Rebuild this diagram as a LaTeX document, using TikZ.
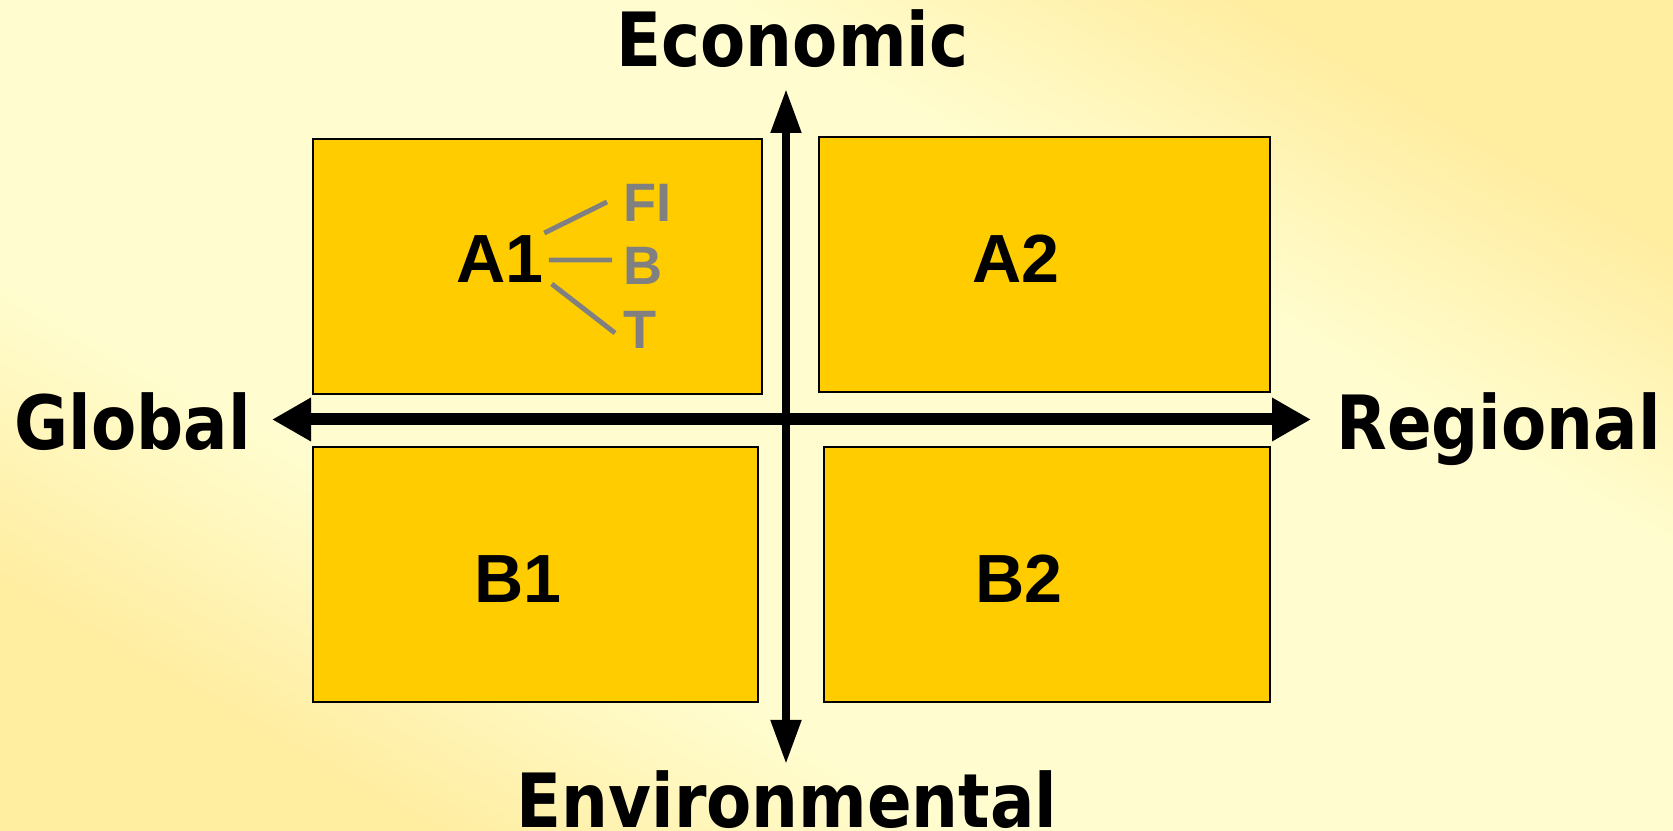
\documentclass[tikz,border=0pt]{standalone}
\usepackage{fontspec}
\setmainfont{Liberation Sans}
\newfontfamily\axisfont[FakeStretch=0.88]{DejaVu Sans}
\usepackage{xcolor}
\definecolor{QuadGold}{HTML}{FFCC00}
\definecolor{PaleCream}{HTML}{FFFDD0}
\definecolor{DeepCream}{HTML}{FFEDA0}
\definecolor{TwigGray}{HTML}{808080}
\usetikzlibrary{arrows.meta,calc}
\pgfdeclareverticalshading{creamband}{100bp}{color(0bp)=(DeepCream); color(25bp)=(DeepCream); color(37bp)=(PaleCream); color(63bp)=(PaleCream); color(75bp)=(DeepCream); color(100bp)=(DeepCream)}

\begin{document}
\begin{tikzpicture}[
        quadrant/.style={draw=black, line width=0.6pt, fill=QuadGold},
        vaxis/.style={line width=0.08cm, {Triangle[length=0.44cm, width=0.29cm]}-{Triangle[length=0.44cm, width=0.29cm]}},
        haxis/.style={line width=0.12cm, {Triangle[length=0.39cm, width=0.41cm]}-{Triangle[length=0.39cm, width=0.41cm]}},
        axislabel/.style={font=\axisfont\bfseries\fontsize{21.3pt}{24pt}\selectfont, inner sep=0pt, anchor=base},
        boxlabel/.style={font=\bfseries\fontsize{19.4pt}{22pt}\selectfont, inner sep=0pt, anchor=base},
        sublabel/.style={font=\bfseries\fontsize{15.4pt}{18pt}\selectfont, text=TwigGray, inner sep=0pt, anchor=base west},
        twig/.style={line width=1.4pt, TwigGray}
    ]
        % Cream backdrop, darker towards two corners
        \useasboundingbox (0,0) rectangle (16.73,8.31);
        \shade[shading=creamband, shading angle=-30] (0,0) rectangle (16.73,8.31);

        % The four scenario quadrants
        \draw[quadrant] (3.13,4.37) rectangle (7.62,6.92);
        \draw[quadrant] (8.19,4.39) rectangle (12.70,6.94);
        \draw[quadrant] (3.13,1.29) rectangle (7.58,3.84);
        \draw[quadrant] (8.24,1.29) rectangle (12.70,3.84);

        % Axis ends
        \coordinate (econ) at (7.86,7.42);
        \coordinate (envi) at (7.86,0.67);
        \coordinate (glob) at (2.72,4.115);
        \coordinate (regi) at (13.11,4.115);

        % Double-headed axes
        \draw[haxis] (glob) -- (regi);
        \draw[vaxis] (envi) -- (econ);

        % Axis labels
        \node[axislabel] (economic) at (7.925,7.64) {Economic};
        \node[axislabel] (environmental) at (7.87,0.03) {Environmental};
        \node[axislabel] (global) at (1.325,3.81) {Global};
        \node[axislabel] (regional) at (14.985,3.81) {Regional};

        % Quadrant labels
        \node[boxlabel] (A1) at (5.00,5.485) {A1};
        \node[boxlabel] (A2) at (10.16,5.485) {A2};
        \node[boxlabel] (B1) at (5.18,2.28) {B1};
        \node[boxlabel] (B2) at (10.19,2.28) {B2};

        % A1 sub-families
        \node[sublabel] (FI) at (6.23,6.09) {FI};
        \node[sublabel] (B) at (6.23,5.46) {B};
        \node[sublabel] (T) at (6.23,4.82) {T};
        \draw[twig] ([shift={(0,0.495)}]A1.base east) -- ([shift={(-0.16,0.20)}]FI.base west);
        \draw[twig] ([shift={(0.045,0.225)}]A1.base east) -- ([shift={(-0.11,0.25)}]B.base west);
        \draw[twig] ([shift={(0.075,-0.015)}]A1.base east) -- ([shift={(-0.08,0.16)}]T.base west);
    \end{tikzpicture}
\end{document}
